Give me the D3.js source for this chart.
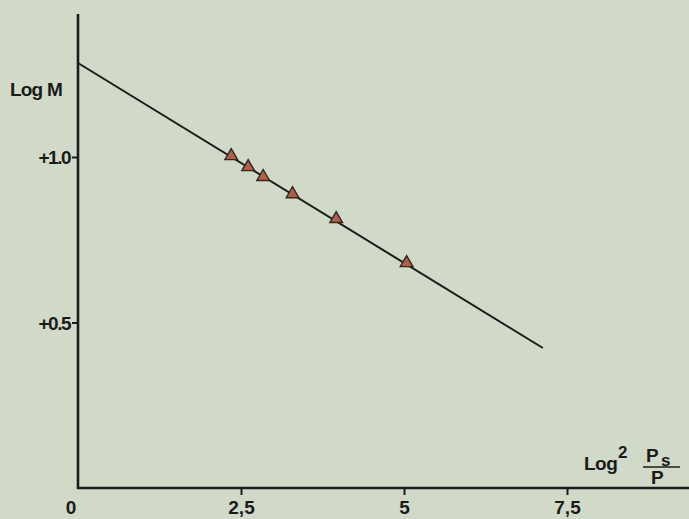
<!DOCTYPE html>
<html>
<head>
<meta charset="utf-8">
<script src="https://cdn.jsdelivr.net/npm/d3@7"></script>
<style>
  html, body { margin: 0; padding: 0; background: #d1dac9; }
  svg { display: block; }
  text { font-family: "Liberation Sans", Arial, sans-serif; font-weight: bold; fill: #1b1b1b; }
</style>
</head>
<body>
<svg id="chart" width="689" height="519"></svg>
<script>
// Measured points: x = log2(Ps/P), y = log M
const xValues = [2.35, 2.61, 2.84, 3.29, 3.96, 5.04];
const yValues = [1.0, 0.967, 0.937, 0.885, 0.810, 0.677];

// Fitted line endpoints
const fitX = [0, 7.13];
const fitY = [1.284, 0.423];

// Axis ticks
const xTicks = [2.5, 5, 7.5];
const xTickLabels = ["2,5", "5", "7,5"];
const yTicks = [0.5, 1.0];
const yTickLabels = ["+0.5", "+1.0"];

const svg = d3.select("#chart");
const W = 689, H = 519;

const x = d3.scaleLinear().domain([0, 7.5]).range([78, 567]);
const y = d3.scaleLinear().domain([0, 1]).range([488, 157]);

const ink = "#1b1b1b";

// Axes lines
svg.append("line")
  .attr("x1", x(0)).attr("x2", x(0))
  .attr("y1", 14).attr("y2", y(0) + 1)
  .attr("stroke", ink).attr("stroke-width", 2.6);
svg.append("line")
  .attr("x1", x(0) - 1).attr("x2", W)
  .attr("y1", y(0)).attr("y2", y(0))
  .attr("stroke", ink).attr("stroke-width", 2.6);

// X ticks
const xAxis = d3.axisBottom(x).tickValues(xTicks).tickSize(7)
  .tickFormat((d, i) => xTickLabels[i]);
const gx = svg.append("g").attr("transform", `translate(0,${y(0)})`).call(xAxis);
gx.select(".domain").remove();
gx.selectAll(".tick line").attr("stroke", ink).attr("stroke-width", 2);
gx.selectAll(".tick text").attr("dy", 0).attr("y", 26)
  .style("font-size", "19px").attr("fill", ink);
svg.append("text").attr("x", 71).attr("y", y(0) + 26)
  .attr("text-anchor", "middle").style("font-size", "19px").text("0");

// Y ticks
const yAxis = d3.axisLeft(y).tickValues(yTicks).tickSize(6)
  .tickFormat((d, i) => yTickLabels[i]);
const gy = svg.append("g").attr("transform", `translate(${x(0)},0)`).call(yAxis);
gy.select(".domain").remove();
gy.selectAll(".tick line").attr("stroke", ink).attr("stroke-width", 2);
gy.selectAll(".tick text").attr("x", -8).attr("dy", "0.35em")
  .style("font-size", "19px").style("letter-spacing", "-1.5px").attr("fill", ink);

// Axis titles
svg.append("text").attr("x", 10).attr("y", 96)
  .style("font-size", "19px").style("letter-spacing", "-0.8px").text("Log M");

const xt = svg.append("g");
xt.append("text").attr("x", 584).attr("y", 470)
  .style("font-size", "19px").style("letter-spacing", "-0.5px").text("Log");
xt.append("text").attr("x", 618).attr("y", 458)
  .style("font-size", "17px").text("2");
xt.append("text").attr("x", 646).attr("y", 462)
  .style("font-size", "19px").text("P");
xt.append("text").attr("x", 661).attr("y", 466)
  .style("font-size", "17px").text("s");
xt.append("line").attr("x1", 643).attr("x2", 680)
  .attr("y1", 467).attr("y2", 467).attr("stroke", ink).attr("stroke-width", 1.5);
xt.append("text").attr("x", 651).attr("y", 484)
  .style("font-size", "19px").text("P");

// Regression line
svg.append("line")
  .attr("x1", x(fitX[0])).attr("y1", y(fitY[0]))
  .attr("x2", x(fitX[1])).attr("y2", y(fitY[1]))
  .attr("stroke", ink).attr("stroke-width", 2);

// Data markers
const pts = xValues.map((v, i) => ({ x: v, y: yValues[i] }));
const tri = d3.symbol().type(d3.symbolTriangle).size(70);
svg.append("g").selectAll("path").data(pts).join("path")
  .attr("d", tri)
  .attr("transform", d => `translate(${x(d.x)},${y(d.y) - 1})`)
  .attr("fill", "#ad604a")
  .attr("stroke", "#35261f")
  .attr("stroke-width", 1.4);
</script>
</body>
</html>
